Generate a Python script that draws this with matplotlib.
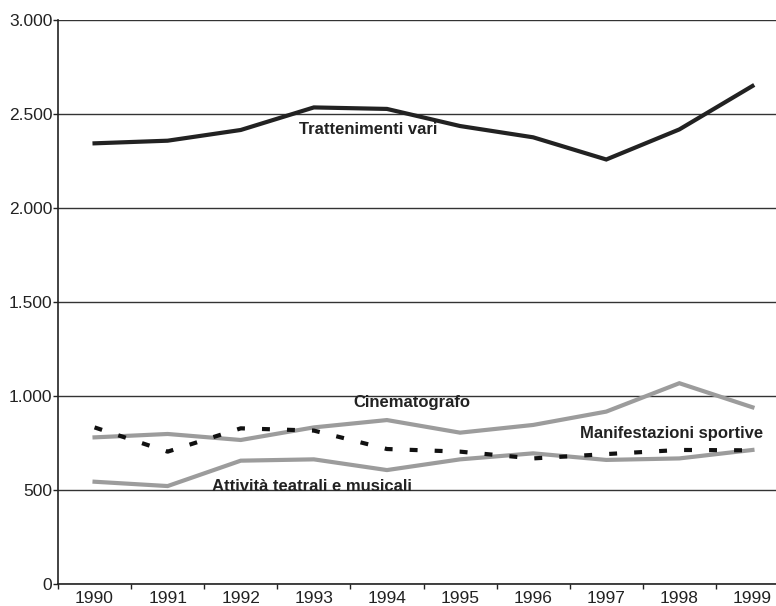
import matplotlib.pyplot as plt
from matplotlib.ticker import FuncFormatter

plt.rcParams['font.family'] = ['Liberation Sans', 'DejaVu Sans']

# Data
years = ['1990', '1991', '1992', '1993', '1994', '1995', '1996', '1997', '1998', '1999']
trattenimenti = [2344, 2358, 2415, 2535, 2527, 2436, 2376, 2258, 2418, 2649]
cinematografo = [780, 798, 766, 833, 872, 805, 846, 917, 1068, 940]
sportive = [833, 704, 828, 816, 718, 704, 668, 691, 713, 711]
teatrali = [544, 521, 656, 663, 606, 663, 695, 660, 668, 713]

y_ticks = [0, 500, 1000, 1500, 2000, 2500, 3000]

fig = plt.figure(figsize=(7.76, 6.06), dpi=100)
# the plot area runs past the right edge of the picture, as in the reference
ax = fig.add_axes([58 / 776, 1 - 584 / 606, 731 / 776, 564 / 606])

x = list(range(len(years)))
gray = '#9c9c9c'
ax.plot(x, teatrali, color=gray, lw=3, solid_joinstyle='miter', zorder=3)
ax.plot(x, cinematografo, color=gray, lw=3, solid_joinstyle='miter', zorder=3)
ax.plot(x, sportive, color='#111111', lw=3, dashes=(1.9, 4.1), zorder=4)
ax.plot(x, trattenimenti, color='#222222', lw=3, solid_joinstyle='miter', zorder=4)

# Series labels
lab = dict(fontsize=12, fontweight='bold', color='#222222', ha='center', va='center')
ax.text(3.75, 2415, 'Trattenimenti vari', **lab)
ax.text(4.34, 963, 'Cinematografo', **lab)
ax.text(7.9, 798, 'Manifestazioni sportive', **lab)
ax.text(2.97, 521, 'Attività teatrali e musicali', **lab)

ax.set_xlim(-0.5, len(years) - 0.5)
ax.set_ylim(0, 3000)
ax.set_yticks(y_ticks)
ax.yaxis.set_major_formatter(FuncFormatter(lambda v, p: f'{int(v):,}'.replace(',', '.')))
ax.set_xticks(x)
ax.set_xticklabels(years)
ax.set_xticks([i - 0.5 for i in range(len(years) + 1)], minor=True)
ax.tick_params(axis='x', which='major', length=0, pad=5, labelsize=12.5, colors='#222222')
ax.tick_params(axis='x', which='minor', length=3.5, width=1, color='#222222')
ax.tick_params(axis='y', length=3.5, width=1, pad=0.5, labelsize=12.5, colors='#222222')

ax.yaxis.grid(True, color='#333333', lw=1)
ax.set_axisbelow(True)
for s in ['top', 'right']:
    ax.spines[s].set_visible(False)
for s in ['left', 'bottom']:
    ax.spines[s].set_color('#222222')
    ax.spines[s].set_linewidth(1.2)

fig.savefig('out.png', dpi=100)
